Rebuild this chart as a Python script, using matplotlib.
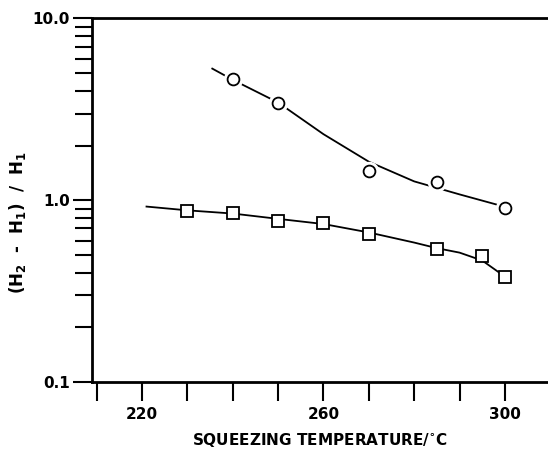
import matplotlib.pyplot as plt
import numpy as np

# data
circle_temp = [240, 250, 270, 285, 300]
circle_val = [4.63, 3.44, 1.45, 1.26, 0.91]
circle_fit_temp = [235.5, 240, 250, 260, 270, 280, 290, 300]
circle_fit_val = [5.3, 4.6, 3.45, 2.31, 1.63, 1.27, 1.077, 0.92]

square_temp = [230, 240, 250, 260, 270, 285, 295, 300]
square_val = [0.878, 0.849, 0.764, 0.747, 0.653, 0.540, 0.496, 0.377]
square_fit_temp = [221, 230, 240, 250, 260, 270, 280, 285, 290, 295, 300]
square_fit_val = [0.923, 0.88, 0.845, 0.79, 0.74, 0.665, 0.585, 0.545, 0.515, 0.466, 0.38]

xticks = [210, 220, 230, 240, 250, 260, 270, 280, 290, 300]
xlabels = ['', '220', '', '', '', '260', '', '', '', '300']
yticks = [0.1, 1.0, 10.0]
ylabels = ['0.1', '1.0', '10.0']

plt.rcParams['font.family'] = ['DejaVu Sans']
plt.rcParams['font.weight'] = 'bold'
plt.rcParams['mathtext.default'] = 'bf'

fig = plt.figure(figsize=(5.48, 4.51), dpi=100)
ax = fig.add_axes([0.168, 0.153, 0.832, 0.806])

ax.plot(circle_fit_temp, circle_fit_val, color='black', lw=1.3, zorder=2)
ax.plot(square_fit_temp, square_fit_val, color='black', lw=1.3, zorder=2)

# white halo so the curve stops short of the symbols
ax.plot(circle_temp, circle_val, 'o', ms=13, mfc='white', mec='white', zorder=3)
ax.plot(circle_temp, circle_val, 'o', ms=8.5, mfc='white', mec='black', mew=1.3, zorder=4)
ax.plot(square_temp, square_val, 's', ms=9, mfc='white', mec='black', mew=1.3, zorder=4)

ax.set_yscale('log')
ax.set_ylim(0.1, 10.0)
ax.set_xlim(209, 309.5)

ax.set_xticks(xticks)
ax.set_xticklabels(xlabels, fontsize=11, fontweight='bold')
ax.set_yticks(yticks)
ax.set_yticklabels(ylabels, fontsize=11, fontweight='bold')
ax.yaxis.set_minor_locator(plt.matplotlib.ticker.LogLocator(base=10, subs=np.arange(2, 10)))
ax.yaxis.set_minor_formatter(plt.NullFormatter())

ax.tick_params(axis='x', direction='out', length=14, width=1.5, pad=4)
ax.tick_params(axis='y', which='major', direction='out', length=14, width=1.5, pad=2)
ax.tick_params(axis='y', which='minor', direction='out', length=12, width=1.5)

ax.spines['right'].set_visible(False)
for s in ['left', 'top', 'bottom']:
    ax.spines[s].set_linewidth(2)

ax.set_xlabel(r'SQUEEZING TEMPERATURE/$^{\circ}$C', fontsize=11, fontweight='bold')
ax.xaxis.set_label_coords(0.5, -0.135)
ax.set_ylabel(r'(H$_2$  -  H$_1$)  /  H$_1$', fontsize=12, fontweight='bold')
ax.yaxis.set_label_coords(-0.14, 0.44)

fig.savefig('out.png', dpi=100)
